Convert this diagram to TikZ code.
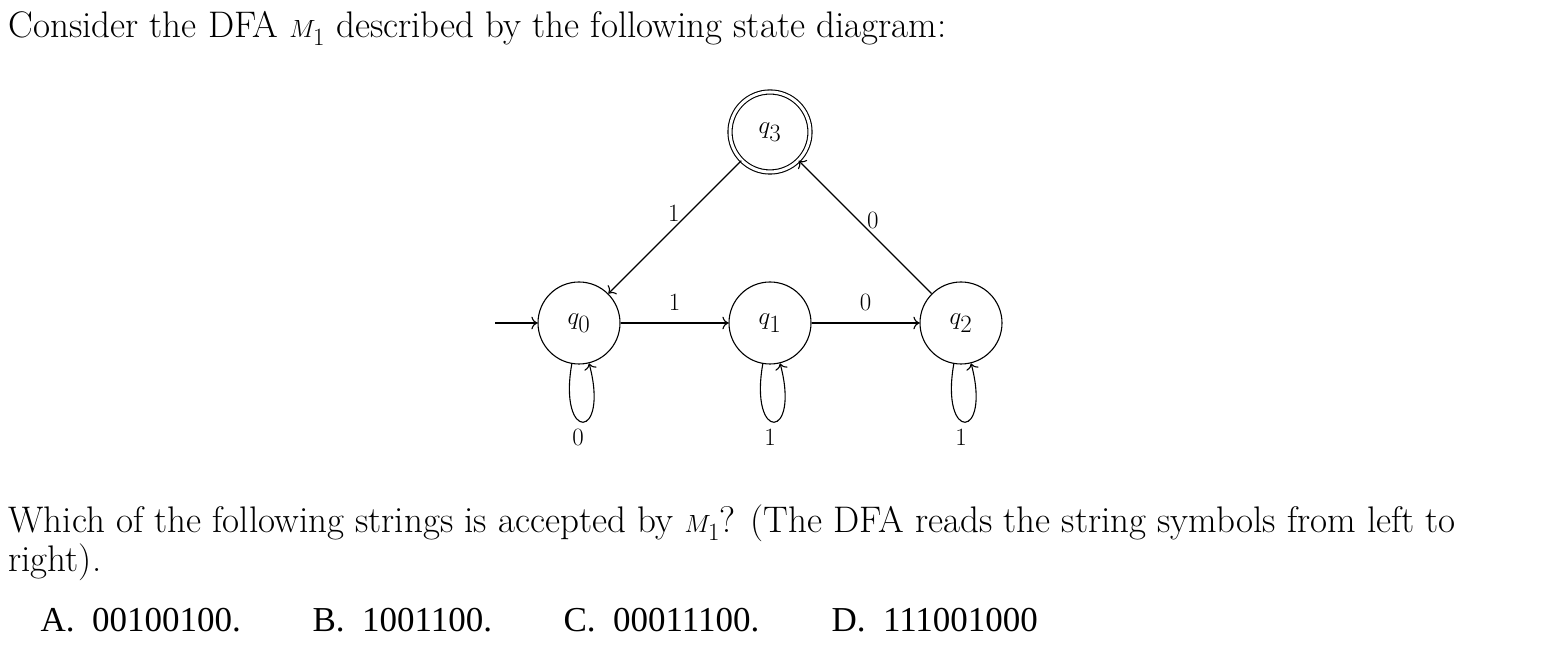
\documentclass[tikz,border=0pt]{standalone}
\usepackage{fontspec}
\usetikzlibrary{arrows.meta}
\newfontfamily\tms{Liberation Serif}
\begin{document}
\begin{tikzpicture}[x=1pt,y=1pt,line width=1.1pt,>={To[scale=1.5]},
  st/.style={circle,draw,minimum size=82pt,inner sep=0pt,font=\fontsize{36}{40}\selectfont},
  lbl/.style={font=\fontsize{36}{40}\selectfont,inner sep=0pt},
  txt/.style={anchor=base west,inner sep=0pt,font=\fontsize{37}{42}\selectfont},
  opt/.style={anchor=base west,inner sep=0pt,font=\tms\fontsize{35}{40}\selectfont}]
\useasboundingbox (0,0) rectangle (1548,652);
\node[txt] (t1) at (8,614) {Consider the DFA $M_1$ described by the following state diagram:};
\node[st] (q0) at (579,329) {$q_0$};
\node[st] (q1) at (770,329) {$q_1$};
\node[st] (q2) at (961,329) {$q_2$};
\node[st,double,double distance=3pt,minimum size=80pt] (q3) at (770,520) {$q_3$};
\coordinate (s) at (495,329);
\draw[->] (s) -- (q0);
\draw[->] (q0) -- node[lbl,above=12pt]{$1$} (q1);
\draw[->] (q1) -- node[lbl,above=12pt]{$0$} (q2);
\draw[->] (q3) -- node[lbl,pos=0.4,left=8pt]{$1$} (q0);
\draw[->] (q2) -- node[lbl,pos=0.55,right=8pt]{$0$} (q3);
\foreach \q in {q0,q1,q2}{
  \draw[->] (\q.-100) .. controls +(-100:80) and +(-75:80) .. (\q.-76);
}
\node[lbl] (l0) at (578,215) {$0$};
\node[lbl] (l1) at (770,215) {$1$};
\node[lbl] (l2) at (961,215) {$1$};
\node[txt] (t2) at (8,119) {Which of the following strings is accepted by $M_1$? (The DFA reads the string symbols from left to};
\node[txt] (t3) at (8,80) {right).};
\node[opt] (a) at (40,20) {A.\ \ 00100100.};
\node[opt] (b) at (312,20) {B.\ \ 1001100.};
\node[opt] (c) at (563,20) {C.\ \ 00011100.};
\node[opt] (d) at (831,20) {D.\ \ 111001000};
\end{tikzpicture}
\end{document}
